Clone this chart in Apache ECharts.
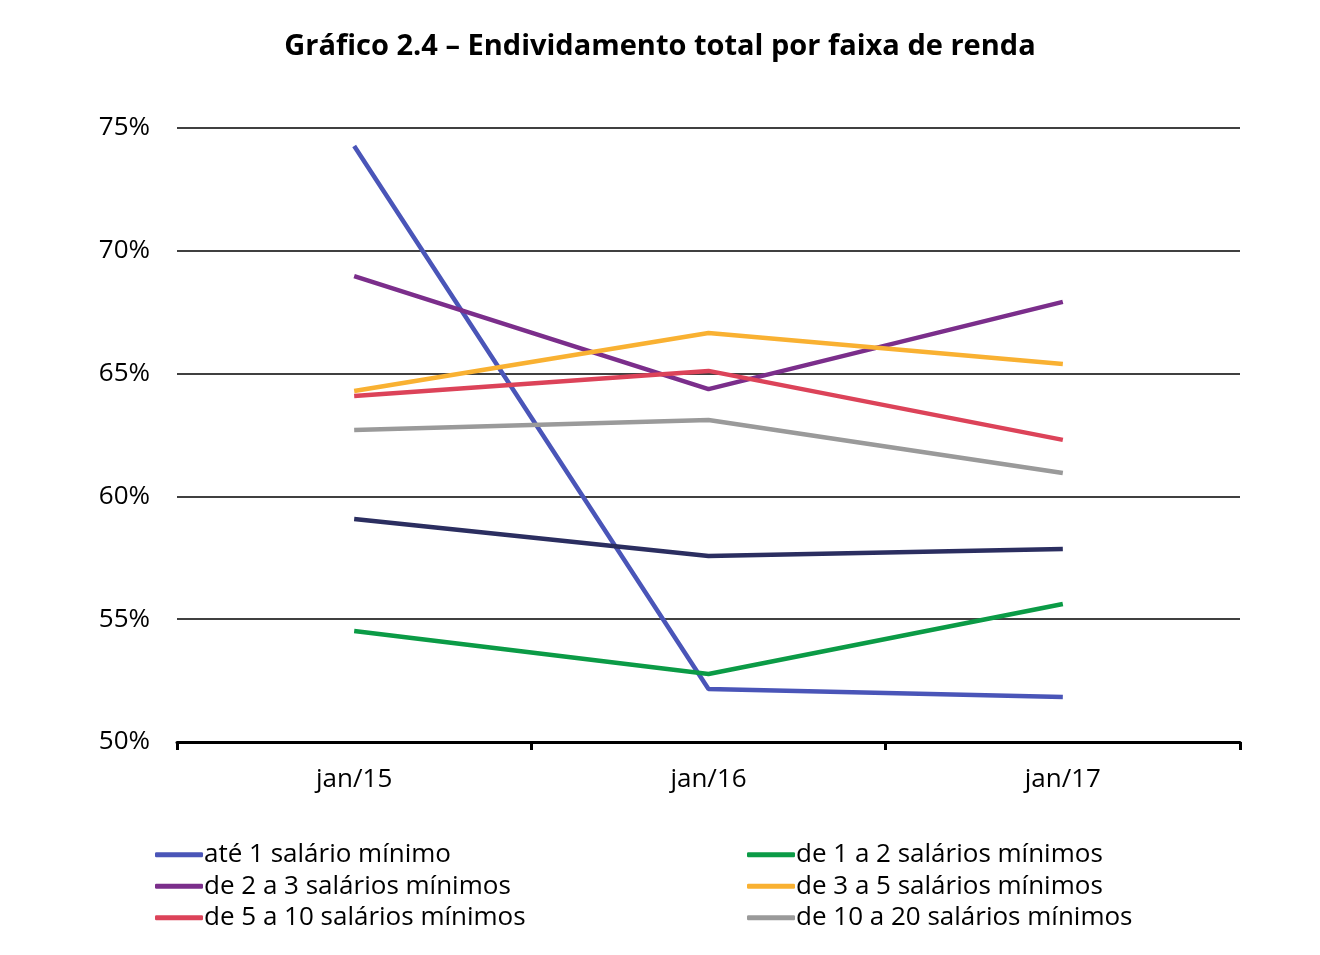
<!DOCTYPE html>
<html>
<head>
<meta charset="utf-8">
<script src="https://cdn.jsdelivr.net/npm/echarts@6/dist/echarts.min.js"></script>
<style>
html,body{margin:0;padding:0;background:#fff;}
#chart{width:1320px;height:955px;}
</style>
</head>
<body>
<div id="chart"></div>
<script>
const categories = ['jan/15', 'jan/16', 'jan/17'];
const ate1 = [74.27, 52.16, 51.83];
const de1a2 = [54.52, 52.77, 55.62];
const de2a3 = [68.97, 64.37, 67.92];
const de3a5 = [64.29, 66.65, 65.39];
const de5a10 = [64.09, 65.11, 62.30];
const de10a20 = [62.70, 63.11, 60.95];
const total = [59.08, 57.57, 57.86];

const names = ['até 1 salário mínimo', 'de 1 a 2 salários mínimos', 'de 2 a 3 salários mínimos',
  'de 3 a 5 salários mínimos', 'de 5 a 10 salários mínimos', 'de 10 a 20 salários mínimos', 'Total'];
const colors = ['#4a55b8', '#0b9b46', '#7b2e8b', '#f9b132', '#dc4359', '#9a9a9a', '#2b2e60'];
const values = [ate1, de1a2, de2a3, de3a5, de5a10, de10a20, total];

const font = '"Open Sans", "Noto Sans", sans-serif';
const chart = echarts.init(document.getElementById('chart'));
const legendCommon = {
  orient: 'vertical', itemWidth: 48, itemHeight: 5, itemGap: 4, icon: 'roundRect',
  textStyle: { fontFamily: font, fontSize: 26, lineHeight: 27.5, color: '#000', padding: [0, 0, 0, -4] },
  selectedMode: false
};
chart.setOption({
  animation: false,
  title: {
    text: 'Gráfico 2.4 – Endividamento total por faixa de renda',
    left: 'center', top: 27,
    textStyle: { fontFamily: font, fontSize: 29, fontWeight: 'bold', color: '#000' }
  },
  legend: [
    Object.assign({ left: 150, top: 836, data: [names[0], names[2], names[4]] }, legendCommon),
    Object.assign({ left: 742, top: 836, data: [names[1], names[3], names[5]] }, legendCommon)
  ],
  grid: { left: 177, right: 80, top: 128, bottom: 213 },
  xAxis: {
    type: 'category', data: categories,
    axisLine: { lineStyle: { color: '#000', width: 3 } },
    axisTick: { show: true, length: 8, lineStyle: { color: '#000', width: 3 } },
    axisLabel: { fontFamily: font, fontSize: 26, color: '#000', margin: 25 }
  },
  yAxis: {
    type: 'value', min: 50, max: 75, interval: 5,
    axisLine: { show: false }, axisTick: { show: false },
    axisLabel: { formatter: '{value}%', fontFamily: font, fontSize: 26, color: '#000', margin: 27 },
    splitLine: { lineStyle: { color: '#000', width: 1.5 } }
  },
  series: values.map((v, i) => ({
    name: names[i], type: 'line', data: v, symbol: 'none',
    lineStyle: { color: colors[i], width: 4.5 }, itemStyle: { color: colors[i] }
  }))
});
</script>
</body>
</html>
